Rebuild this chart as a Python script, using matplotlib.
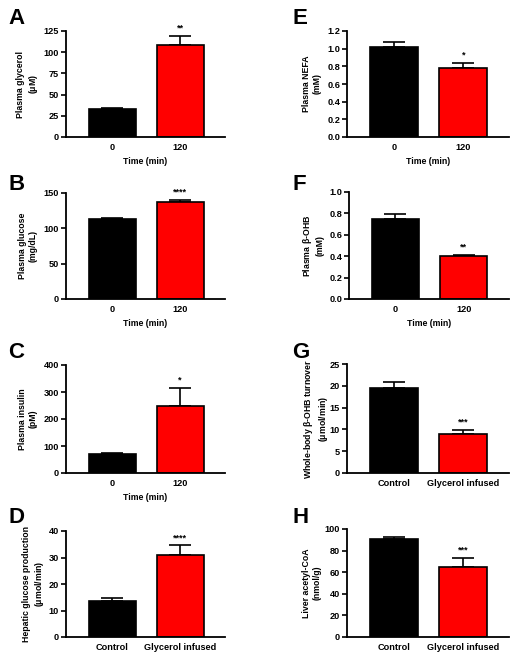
import numpy as np
import matplotlib.pyplot as plt

plt.rcParams['font.family'] = ['Liberation Sans', 'DejaVu Sans']
plt.rcParams['font.weight'] = 'bold'
plt.rcParams['axes.labelweight'] = 'bold'
plt.rcParams['mathtext.fontset'] = 'custom'
plt.rcParams['mathtext.rm'] = 'Liberation Sans:bold'
plt.rcParams['mathtext.it'] = 'Liberation Sans:bold'
plt.rcParams['mathtext.default'] = 'regular'

# panel data: (bar means, upward SEM)
time_labels = ['0', '120']
group_labels = ['Control', 'Glycerol infused']

glycerol = [33.5, 109]
glycerol_err = [0.5, 10]
glucose = [113, 137]
glucose_err = [1.2, 3]
insulin = [70, 248]
insulin_err = [4, 68]
hgp = [13.6, 31.0]
hgp_err = [1.0, 3.6]
nefa = [1.02, 0.785]
nefa_err = [0.055, 0.055]
bohb = [0.743, 0.405]
bohb_err = [0.05, 0.005]
bohb_turnover = [19.6, 8.9]
bohb_turnover_err = [1.3, 1.0]
acetylcoa = [91.0, 65.2]
acetylcoa_err = [1.9, 8.0]

stars = ['**', '****', '*', '****', '*', '**', '***', '***']

panels = [
    # letter, values, err, ylabel, ymax, yticks, tick fmt, xticklabels, xlabel
    ('A', glycerol, glycerol_err, 'Plasma glycerol\n($\\mu$M)', 125, np.arange(0, 126, 25), '%d', time_labels, 'Time (min)'),
    ('B', glucose, glucose_err, 'Plasma glucose\n(mg/dL)', 150, np.arange(0, 151, 50), '%d', time_labels, 'Time (min)'),
    ('C', insulin, insulin_err, 'Plasma insulin\n(pM)', 400, np.arange(0, 401, 100), '%d', time_labels, 'Time (min)'),
    ('D', hgp, hgp_err, 'Hepatic glucose production\n($\\mu$mol/min)', 40, np.arange(0, 41, 10), '%d', group_labels, None),
    ('E', nefa, nefa_err, 'Plasma NEFA\n(mM)', 1.2, np.arange(0, 1.21, 0.2), '%.1f', time_labels, 'Time (min)'),
    ('F', bohb, bohb_err, 'Plasma $\\beta$-OHB\n(mM)', 1.0, np.arange(0, 1.01, 0.2), '%.1f', time_labels, 'Time (min)'),
    ('G', bohb_turnover, bohb_turnover_err, 'Whole-body $\\beta$-OHB turnover\n($\\mu$mol/min)', 25, np.arange(0, 26, 5), '%d', group_labels, None),
    ('H', acetylcoa, acetylcoa_err, 'Liver acetyl-CoA\n(nmol/g)', 100, np.arange(0, 101, 20), '%d', group_labels, None),
]

# axes boxes in pixels: left, top, right, bottom
W, H = 521, 661
boxes = {
    'A': (66, 31, 225, 137), 'B': (66, 193, 225, 299),
    'C': (66, 365, 225, 473), 'D': (66, 531, 225, 637),
    'E': (347, 31, 509, 137), 'F': (349, 192, 509, 299),
    'G': (347, 364, 509, 473), 'H': (347, 529, 509, 637),
}
letter_pos = {
    'A': (8, 24), 'B': (8, 190), 'C': (8, 358), 'D': (8, 523),
    'E': (292, 24), 'F': (292, 190), 'G': (292, 358), 'H': (292, 523),
}
# x centre of the two-line y label, pixels
ylabel_x = {'A': 28, 'B': 28, 'C': 28, 'D': 34, 'E': 312, 'F': 313, 'G': 316, 'H': 312}

fs = 6.3
fig = plt.figure(figsize=(W / 100, H / 100), dpi=100)

for k, (letter, vals, err, ylab, ymax, yt, fmt, xtl, xlab) in enumerate(panels):
    l, t, r, b = boxes[letter]
    ax = fig.add_axes([l / W, 1 - b / H, (r - l) / W, (b - t) / H])
    x = np.arange(2)
    ax.bar(x, vals, width=0.69, color=['black', 'red'], edgecolor='black', linewidth=1.2, zorder=2)
    for i in range(2):
        ax.errorbar(x[i], vals[i], yerr=[[0], [err[i]]], fmt='none', ecolor='black',
                    elinewidth=1.2, capsize=8, capthick=1.2, zorder=1)
    ax.text(1, vals[1] + err[1] + ymax * 0.03, stars[k], ha='center', va='bottom',
            fontsize=6.5, fontweight='bold')
    ax.set_xlim(-0.68, 1.66)
    ax.set_ylim(0, ymax)
    ax.set_yticks(yt)
    ax.set_yticklabels([fmt % v for v in yt])
    ax.set_xticks(x)
    ax.set_xticklabels(xtl)
    ax.tick_params(axis='x', length=0, labelsize=fs + 0.3, pad=4)
    ax.tick_params(axis='y', length=3.5, width=1.2, labelsize=fs + 0.3, pad=1.5)
    for lab in ax.get_xticklabels() + ax.get_yticklabels():
        lab.set_fontweight('bold')
    for s in ['top', 'right']:
        ax.spines[s].set_visible(False)
    for s in ['left', 'bottom']:
        ax.spines[s].set_linewidth(1.3)
    fig.text(ylabel_x[letter] / W, 1 - (t + b) / 2 / H, ylab, rotation=90, ha='center', va='center',
             multialignment='center', fontsize=fs, fontweight='bold', linespacing=1.25)
    if xlab:
        ax.set_xlabel(xlab, fontsize=fs, fontweight='bold', labelpad=4)
    lx, ly = letter_pos[letter]
    fig.text(lx / W, 1 - ly / H, letter, fontsize=16, fontweight='bold', ha='left', va='baseline')

fig.savefig('out.png', dpi=100)
